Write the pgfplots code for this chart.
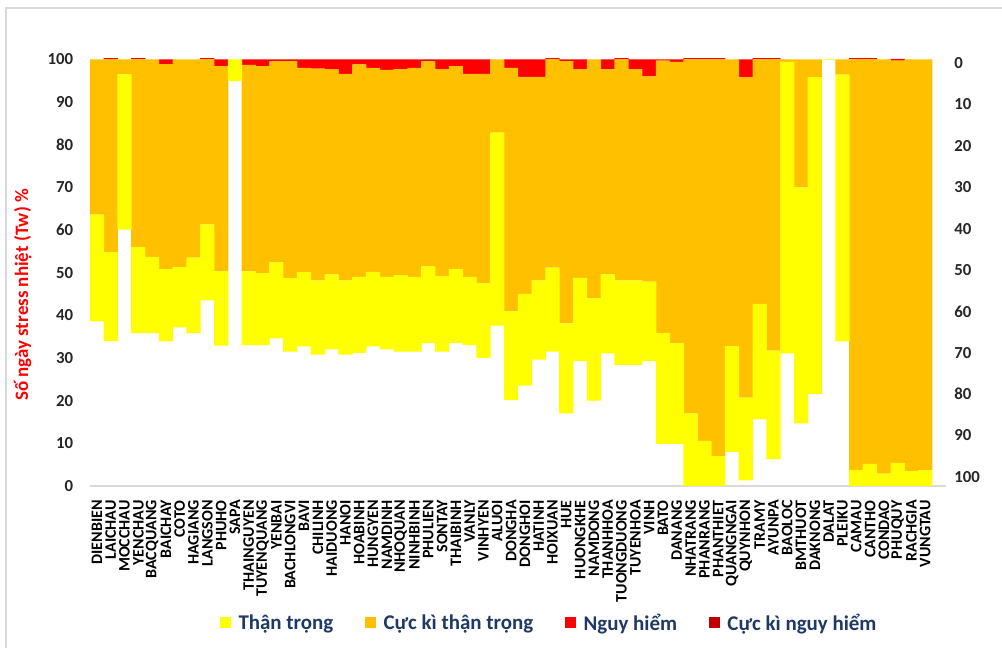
\documentclass[border=0pt]{standalone}
\usepackage{fontspec}
\setmainfont{Carlito}
\usepackage{pgfplots}
\pgfplotsset{compat=1.18}
\usepackage{pgfplotstable}
\definecolor{cY}{HTML}{FFFF00}
\definecolor{cO}{HTML}{FFC000}
\definecolor{cR}{HTML}{FF0000}
\definecolor{cD}{HTML}{C00000}
\definecolor{navy}{HTML}{1F3864}
\definecolor{axg}{HTML}{D9D9D9}
\pgfplotstableread{
x w y o r d
0 38.6 25.0 36.4 0 0
1 34.0 20.8 45.2 0.3 0
2 60.1 36.4 3.5 0 0
3 35.8 20.2 44.0 0.3 0
4 35.8 17.9 46.3 0 0
5 33.9 16.9 48.1 1.1 0
6 37.2 14.1 48.7 0 0
7 35.9 17.6 46.5 0 0
8 43.5 17.8 38.7 0.3 0
9 32.9 17.4 48.1 1.6 0
10 94.9 5.1 0 0 0
11 33.0 17.3 48.4 1.3 0
12 33.0 16.9 48.5 1.6 0
13 34.6 17.8 47.1 0.5 0
14 31.5 17.2 50.9 0.4 0
15 32.7 17.4 47.9 2.0 0
16 30.8 17.4 49.6 2.2 0
17 32.0 17.6 48.1 2.3 0
18 30.8 17.4 48.4 3.4 0
19 31.2 17.8 49.8 1.2 0
20 32.7 17.5 47.8 2.0 0
21 32.0 17.0 48.5 2.5 0
22 31.5 17.9 48.3 2.3 0
23 31.5 17.5 49.0 2.0 0
24 33.5 18.0 48.0 0.5 0
25 31.5 17.7 48.5 2.3 0
26 33.5 17.4 47.5 1.6 0
27 33.0 16.0 47.6 3.4 0
28 30.0 17.5 49.1 3.4 0
29 37.6 45.2 17.2 0 0
30 20.1 20.8 57.1 2.0 0
31 23.5 21.5 50.9 4.1 0
32 29.6 18.6 47.7 4.1 0
33 31.5 19.7 48.8 0.3 0
34 17.0 21.1 61.5 0.4 0
35 29.3 19.5 48.9 2.3 0
36 20.0 24.0 56.0 0 0
37 31.1 18.5 48.1 2.3 0
38 28.4 19.8 51.8 0.3 0
39 28.4 19.8 49.5 2.3 0
40 29.3 18.6 48.1 4.0 0
41 9.9 26.0 63.8 0.3 0
42 9.9 23.5 66.0 0.6 0
43 0 17.0 83.0 0.3 0
44 0 10.6 89.4 0.3 0
45 0 7.0 93.0 0.3 0
46 8.0 24.8 67.2 0 0
47 1.3 19.4 75.1 4.2 0
48 15.6 27.1 57.3 0.3 0
49 6.3 25.4 68.3 0.3 0
50 31.1 68.3 0.6 0 0
51 14.7 55.3 30.0 0 0
52 21.6 74.2 4.2 0 0
53 99.8 0.2 0 0 0
54 33.9 62.5 3.6 0 0
55 0 3.8 96.2 0.3 0
56 0 5.2 94.8 0.3 0
57 0 2.9 97.1 0 0
58 0 5.4 94.3 0.4 0
59 0 3.5 96.5 0 0
60 0 3.7 96.3 0 0
}\data
\begin{document}
\begin{tikzpicture}
\useasboundingbox (0,0) rectangle (751.5pt,486pt);
\draw[axg, line width=0.8pt] (4.5pt,-5pt) rectangle (760pt,480pt);
\begin{axis}[
  at={(67.5pt,121.5pt)}, anchor=south west,
  width=642pt, height=320pt, scale only axis,
  xmin=-0.5, xmax=61.5, ymin=0, ymax=100,
  ybar stacked, bar width=1.03,
  clip=false,
  xtick={0,...,60},
  xticklabels={DIENBIEN,LAICHAU,MOCCHAU,YENCHAU,BACQUANG,BAICHAY,COTO,HAGIANG,LANGSON,PHUHO,SAPA,THAINGUYEN,TUYENQUANG,YENBAI,BACHLONGVI,BAVI,CHILINH,HAIDUONG,HANOI,HOABINH,HUNGYEN,NAMDINH,NHOQUAN,NINHBINH,PHULIEN,SONTAY,THAIBINH,VANLY,VINHYEN,ALUOI,DONGHA,DONGHOI,HATINH,HOIXUAN,HUE,HUONGKHE,NAMDONG,THANHHOA,TUONGDUONG,TUYENHOA,VINH,BATO,DANANG,NHATRANG,PHANRANG,PHANTHIET,QUANGNGAI,QUYNHON,TRAMY,AYUNPA,BAOLOC,BMTHUOT,DAKNONG,DALAT,PLEIKU,CAMAU,CANTHO,CONDAO,PHUQUY,RACHGIA,VUNGTAU},
  ytick={0,10,...,100},
  major tick length=0pt,
  axis x line*=bottom, axis y line*=left,
  x axis line style={draw=axg, line width=1.2pt, -},
  y axis line style={draw=none},
  xticklabel style={rotate=90, anchor=east, inner sep=0pt, font=\fontsize{12}{13}\selectfont\bfseries},
  xticklabel shift=10.5pt,
  yticklabel style={anchor=east, inner sep=0pt, font=\fontsize{12.6}{14}\selectfont\bfseries, text=black!85},
  yticklabel shift=12.5pt,
  /pgf/number format/assume math mode=true,
  legend columns=4,
  legend style={at={(0.537,-0.321)}, anchor=center, draw=none, fill=none,
    font=\fontsize{15.7}{18}\selectfont\bfseries, text=navy,
    /tikz/every even column/.append style={column sep=22pt},
    /tikz/every odd column/.append style={column sep=3.5pt}},
  legend image code/.code={\fill[#1] (0pt,-4.1pt) rectangle (8.25pt,4.1pt);},
]
\addplot[fill=none, draw=none, forget plot] table[x=x,y=w]{\data};
\addplot[fill=cY, draw=none] table[x=x,y=y]{\data};
\addlegendentry{Thận trọng}
\addplot[fill=cO, draw=none] table[x=x,y=o]{\data};
\addlegendentry{Cực kì thận trọng}
\addplot[fill=cR, draw=none] table[x=x,y=r]{\data};
\addlegendentry{Nguy hiểm}
\addplot[fill=cD, draw=none] table[x=x,y=d]{\data};
\addlegendentry{Cực kì nguy hiểm}
\end{axis}
\begin{axis}[
  at={(67.5pt,121.5pt)}, anchor=south west,
  width=642pt, height=320pt, scale only axis,
  xmin=-0.5, xmax=61.5, ymin=-0.9, ymax=102.2, y dir=reverse,
  axis x line=none, xtick=\empty,
  axis y line*=right,
  y axis line style={draw=none},
  ytick={0,10,...,100},
  major tick length=0pt,
  yticklabel style={anchor=west, inner sep=0pt, font=\fontsize{12.6}{14}\selectfont\bfseries, text=black!85},
  yticklabel shift=6pt,
  /pgf/number format/assume math mode=true,
]
\addplot[draw=none] coordinates {(0,50)};
\end{axis}
\node[rotate=90, text=cR, font=\fontsize{14.2}{16}\selectfont\bfseries] at (17pt,264.75pt) {Số ngày stress nhiệt (Tw) \%};
\end{tikzpicture}
\end{document}
